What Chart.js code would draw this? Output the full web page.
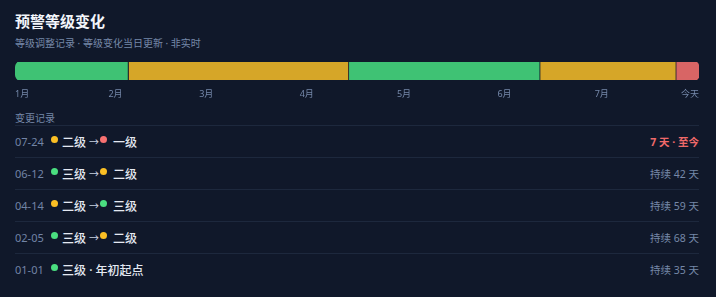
<!DOCTYPE html>
<html>
<head>
<meta charset="utf-8">
<script src="https://cdn.jsdelivr.net/npm/chart.js@4"></script>
<style>
  html, body { margin: 0; padding: 0; }
  body {
    width: 716px; height: 297px; overflow: hidden;
    background: #10182a;
    font-family: "Noto Sans", "Noto Sans CJK SC", sans-serif;
    position: relative;
  }
  .title { position: absolute; left: 15px; top: 10px; font-size: 15px; font-weight: 700; color: #f3f6fb; }
  .sub { position: absolute; left: 15px; top: 35px; font-size: 10px; color: #7688a8; }
  #wrap { position: absolute; left: 0; top: 62px; width: 716px; height: 44px; }
  .head { position: absolute; left: 15px; top: 110px; font-size: 10px; color: #7688a8; }
  #list { position: absolute; left: 15px; top: 125px; width: 684px; }
  .row { height: 31px; border-top: 1px solid #1d283d; display: flex; align-items: center; font-size: 11px; }
  .row .d { color: #7284a6; width: 36px; }
  .dot { display: inline-block; width: 7px; height: 7px; border-radius: 50%; margin: 0 4px 0 0; position: relative; top: -2px; }
  .dot.to { margin: 0; }
  .lv { color: #e4e9f2; font-weight: 500; font-size: 12px; }
  .lv.to { margin-left: 6px; }
  .arr { color: #c8d1e0; font-size: 10px; margin: 0 1px 0 3px; }
  .r { margin-left: auto; color: #7688a8; font-size: 10.5px; }
  .r.now { color: #f06a6a; font-weight: 700; }
</style>
</head>
<body>
<div class="title">预警等级变化</div>
<div class="sub">等级调整记录 · 等级变化当日更新 · 非实时</div>
<div id="wrap"><canvas id="levelChart"></canvas></div>
<div class="head">变更记录</div>
<div id="list"></div>
<script>
// timeline segments, Jan 1 -> today (Jul 31)
const segLevels = ['三级', '二级', '三级', '二级', '一级'];
const segDays = [35, 68, 59, 42, 7];
const tickDays = [0, 31, 59, 90, 120, 151, 181, 211];
const tickLabels = ['1月', '2月', '3月', '4月', '5月', '6月', '7月', '今天'];

// change log, newest first
const logDates = ['07-24', '06-12', '04-14', '02-05', '01-01'];
const logFrom = ['二级', '三级', '二级', '三级', '三级'];
const logTo = ['一级', '二级', '三级', '二级', null];
const logDays = [7, 42, 59, 68, 35];

const barColors = { '三级': '#3fc274', '二级': '#d6a628', '一级': '#d86565' };
const dotColors = { '三级': '#4ade80', '二级': '#fbbf24', '一级': '#f87171' };
const bg = '#10182a';

document.addEventListener('DOMContentLoaded', function() {
    const ctx = document.getElementById('levelChart').getContext('2d');
    const last = segDays.length - 1;
    const datasets = segDays.map((d, i) => ({
        label: segLevels[i],
        data: [d],
        backgroundColor: barColors[segLevels[i]],
        borderColor: bg,
        borderWidth: i === last ? 0 : { right: 1, left: 0, top: 0, bottom: 0 },
        borderSkipped: false,
        borderRadius: i === 0 ? { topLeft: 6, bottomLeft: 6, topRight: 0, bottomRight: 0 }
                    : i === last ? { topLeft: 0, bottomLeft: 0, topRight: 6, bottomRight: 6 } : 0,
        barThickness: 20
    }));

    new Chart(ctx, {
        type: 'bar',
        data: { labels: ['level'], datasets: datasets },
        options: {
            indexAxis: 'y',
            responsive: true,
            maintainAspectRatio: false,
            animation: false,
            layout: { padding: { left: 15, right: 17, top: 0, bottom: 8.2 } },
            plugins: { legend: { display: false }, tooltip: { enabled: false } },
            scales: {
                x: {
                    stacked: true, min: 0, max: 211,
                    grid: { display: false }, border: { display: false },
                    afterBuildTicks: axis => { axis.ticks = tickDays.map(v => ({ value: v })); },
                    ticks: {
                        align: 'inner', maxRotation: 0, autoSkip: false, padding: 1,
                        color: '#7588aa',
                        font: { size: 9, family: '"Noto Sans", "Noto Sans CJK SC", sans-serif' },
                        callback: (v, i) => tickLabels[i]
                    }
                },
                y: { stacked: true, display: false }
            }
        }
    });

    const list = document.getElementById('list');
    logDates.forEach((d, i) => {
        const row = document.createElement('div');
        row.className = 'row';
        let mid = '<span class="dot" style="background:' + dotColors[logFrom[i]] + '"></span><span class="lv">' + logFrom[i] + '</span>';
        if (logTo[i]) {
            mid += '<span class="arr">→</span><span class="dot to" style="background:' + dotColors[logTo[i]] + '"></span><span class="lv to">' + logTo[i] + '</span>';
        } else {
            mid += '<span class="lv">&nbsp;· 年初起点</span>';
        }
        const right = i === 0 ? '<span class="r now">' + logDays[i] + ' 天 · 至今</span>'
                              : '<span class="r">持续 ' + logDays[i] + ' 天</span>';
        row.innerHTML = '<span class="d">' + d + '</span>' + mid + right;
        list.appendChild(row);
    });
});
</script>
</body>
</html>
